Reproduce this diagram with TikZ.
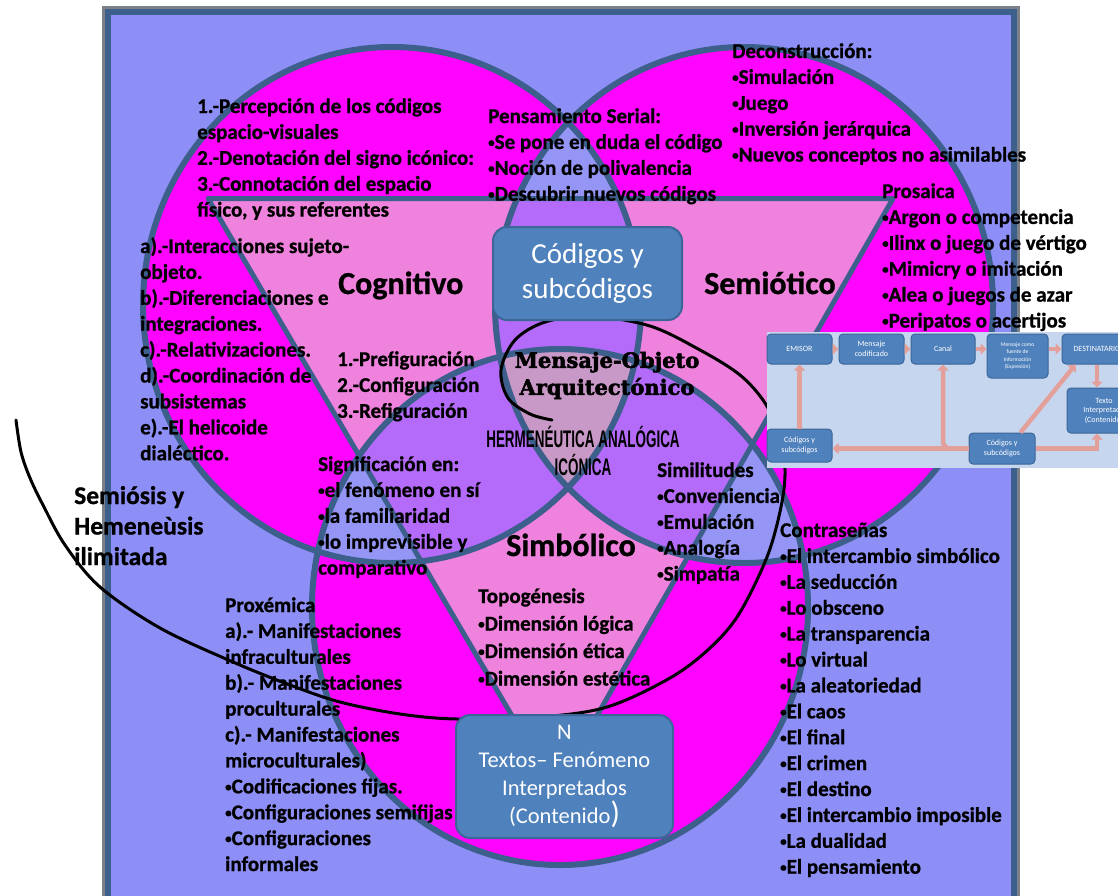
\documentclass[tikz,border=0pt]{standalone}
\usepackage{fontspec}
\setmainfont{Carlito}[BoldFeatures={FakeBold=0.9}]
\newfontfamily\heavyserif{DejaVu Serif}[BoldFeatures={FakeBold=2.5}]
\newfontfamily\plainsans{Liberation Sans}
\usetikzlibrary{arrows.meta}

\definecolor{lav}{HTML}{8E8FF6}
\definecolor{lavpair}{HTML}{9595F5}
\definecolor{mag}{HTML}{FF05FF}
\definecolor{tripink}{HTML}{EE82DC}
\definecolor{purp}{HTML}{B46BF9}
\definecolor{triple}{HTML}{C898C6}
\definecolor{edgeblue}{HTML}{3D5F8C}
\definecolor{framegrey}{HTML}{7C8088}
\definecolor{boxblue}{HTML}{4F81BD}
\definecolor{boxedge}{HTML}{3C6698}
\definecolor{insetbg}{HTML}{C6D6EF}
\definecolor{salmon}{HTML}{E3A09A}

% small list bullet
\newcommand{\bu}{\raisebox{0.1em}{\scalebox{0.62}{•}}}

\tikzset{
  ring/.style={draw=edgeblue, line width=6pt},
  wedge/.style={draw=edgeblue, line width=5pt, line join=round},
  % text blocks are placed by the baseline of their last line
  txt/.style={anchor=base west, inner sep=0pt, align=left,
    font=\bfseries\fontsize{21}{25.9}\selectfont},
  biglabel/.style={anchor=base west, inner sep=0pt,
    font=\bfseries\fontsize{32}{38}\selectfont},
  bluebox/.style={draw=boxedge, fill=boxblue, line width=2pt, rounded corners=14pt,
    text=white, align=center, inner sep=0pt},
  ibox/.style={draw=boxedge, fill=boxblue, line width=1pt, rounded corners=4pt,
    text=white, align=center, inner sep=1pt, font=\fontsize{8}{9.5}\selectfont},
  arr/.style={draw=salmon, line width=4.5pt, -{Triangle[width=11pt,length=6pt]}},
}

\begin{document}
\begin{tikzpicture}[x=1pt,y=-1pt]
\useasboundingbox (0,0) rectangle (1118,895);
\clip (0,0) rectangle (1118,895);
\fill[white] (0,0) rectangle (1118,895);

% slide frame
\fill[lav] (105,9) rectangle (1017,905);
\draw[framegrey, line width=3pt] (103,7) rectangle (1018.5,910);
\draw[edgeblue, line width=6pt] (108,12) rectangle (1014,910);

% three circles of the Venn diagram
\fill[mag] (392,305) ellipse [x radius=249pt, y radius=258pt];
\fill[mag] (744,305) ellipse [x radius=249pt, y radius=258pt];
\fill[mag] (560,607) ellipse [x radius=248pt, y radius=258pt];

% pairwise overlaps outside the triangle
\begin{scope}
  \clip (392,305) ellipse [x radius=249pt, y radius=258pt];
  \fill[lavpair] (744,305) ellipse [x radius=249pt, y radius=258pt];
  \fill[lavpair] (560,607) ellipse [x radius=248pt, y radius=258pt];
\end{scope}
\begin{scope}
  \clip (744,305) ellipse [x radius=249pt, y radius=258pt];
  \fill[lavpair] (560,607) ellipse [x radius=248pt, y radius=258pt];
\end{scope}

% inverted triangle
\fill[tripink] (208,198.5) -- (893,198.5) -- (555,789) -- cycle;
\begin{scope}
  \clip (208,198.5) -- (893,198.5) -- (555,789) -- cycle;
  \begin{scope}
    \clip (392,305) ellipse [x radius=249pt, y radius=258pt];
    \fill[purp] (744,305) ellipse [x radius=249pt, y radius=258pt];
    \fill[purp] (560,607) ellipse [x radius=248pt, y radius=258pt];
  \end{scope}
  \begin{scope}
    \clip (744,305) ellipse [x radius=249pt, y radius=258pt];
    \fill[purp] (560,607) ellipse [x radius=248pt, y radius=258pt];
  \end{scope}
  \begin{scope}
    \clip (392,305) ellipse [x radius=249pt, y radius=258pt];
    \clip (744,305) ellipse [x radius=249pt, y radius=258pt];
    \fill[triple] (560,607) ellipse [x radius=248pt, y radius=258pt];
  \end{scope}
\end{scope}

% outlines
\draw[ring] (392,305) ellipse [x radius=249pt, y radius=258pt];
\draw[ring] (744,305) ellipse [x radius=249pt, y radius=258pt];
\draw[ring] (560,607) ellipse [x radius=248pt, y radius=258pt];
\draw[wedge] (208,198.5) -- (893,198.5) -- (555,789) -- cycle;

% spiral of unlimited semiosis
\draw[line width=3pt, line cap=round] plot[smooth, tension=0.55] coordinates {
  (16,420) (21,452) (30,478) (43,505) (65,545) (100,587) (160,628) (233,662)
  (290,685) (340,702) (400,714) (457,719) (540,717) (607,707) (670,678)
  (710,648) (739,614) (767,557) (781,507) (785,470) (779,435) (765,403)
  (740,375) (700,350) (650,326) (590,316) (545,322) (515,340) (501,370)
  (508,398) (530,414) (552,420)};

% central boxes
\node[bluebox, minimum width=189pt, minimum height=93pt,
  font=\fontsize{29}{35}\selectfont] (codigos) at (587.5,273.5) {Códigos y\\subcódigos};
\node[bluebox, minimum width=217pt, minimum height=123pt,
  font=\fontsize{22.5}{28}\selectfont] (textos) at (564.5,776.5)
  {N\\Textos– Fenómeno\\Interpretados\\(Contenido{\fontsize{31}{28}\selectfont)}};

% region labels
\node[biglabel] (cognitivo) at (338,294) {Cognitivo};
\node[biglabel] (semiotico) at (704,294) {Semiótico};
\node[biglabel] (simbolico) at (506,556) {Simbólico};

\node[inner sep=0pt, align=center, font=\heavyserif\bfseries\fontsize{21}{27}\selectfont]
  (mensaje) at (607,375.5) {Mensaje-Objeto\\Arquitectónico};
\node[inner sep=0pt, align=center, font=\plainsans\bfseries\fontsize{24}{28}\selectfont]
  (herme) at (583,451) {\scalebox{0.56}[1]{HERMENÉUTICA ANALÓGICA}\\\scalebox{0.56}[1]{ICÓNICA}};

% text blocks
\node[txt] (percepcion) at (197,216.6) {1.-Percepción de los códigos\\espacio-visuales\\2.-Denotación del signo icónico:\\3.-Connotación del espacio\\físico, y sus referentes};
\node[txt] (serial) at (488,200.7) {Pensamiento Serial:\\\bu Se pone en duda el código\\\bu Noción de polivalencia\\\bu Descubrir nuevos códigos};
\node[txt] (decons) at (732,161.6) {Deconstrucción:\\\bu Simulación\\\bu Juego\\\bu Inversión jerárquica\\\bu Nuevos conceptos no asimilables};
\node[txt] (prosaica) at (882,327.5) {Prosaica\\\bu Argon o competencia\\\bu Ilinx o juego de vértigo\\\bu Mimicry o imitación\\\bu Alea o juegos de azar\\\bu Peripatos o acertijos};
\node[txt] (interacc) at (140,460.2) {a).-Interacciones sujeto-\\objeto.\\b).-Diferenciaciones e\\integraciones.\\c).-Relativizaciones.\\d).-Coordinación de\\subsistemas\\e).-El helicoide\\dialéctico.};
\node[txt] (prefig) at (337,417.8) {1.-Prefiguración\\2.-Configuración\\3.-Refiguración};
\node[txt] (signif) at (318,574.6) {Significación en:\\\bu el fenómeno en sí\\\bu la familiaridad\\\bu lo imprevisible y\\comparativo};
\node[txt] (simil) at (657,580.6) {Similitudes\\\bu Conveniencia\\\bu Emulación\\\bu Analogía\\\bu Simpatía};
\node[txt] (proxemica) at (225,871) {Proxémica\\a).- Manifestaciones\\infraculturales\\b).- Manifestaciones\\proculturales\\c).- Manifestaciones\\microculturales)\\\bu Codificaciones fijas.\\\bu Configuraciones semifijas\\\bu Configuraciones\\informales};
\node[txt, font=\bfseries\fontsize{21}{27.5}\selectfont] (topo) at (478,685.5) {Topogénesis\\\bu Dimensión lógica\\\bu Dimensión ética\\\bu Dimensión estética};
\node[txt] (contra) at (780,873.7) {Contraseñas\\\bu El intercambio simbólico\\\bu La seducción\\\bu Lo obsceno\\\bu La transparencia\\\bu Lo virtual\\\bu La aleatoriedad\\\bu El caos\\\bu El final\\\bu El crimen\\\bu El destino\\\bu El intercambio imposible\\\bu La dualidad\\\bu El pensamiento};
\node[txt, font=\bfseries\fontsize{25.5}{30.5}\selectfont] (semiosis) at (74,565) {Semiósis y\\Hemeneùsis\\ilimitada};

% communication model inset
\fill[insetbg] (767,332) rectangle (1130,468);
\node[ibox, minimum width=65pt, minimum height=30pt] (emisor) at (799.5,349) {EMISOR};
\node[ibox, minimum width=65pt, minimum height=30pt] (mcod) at (871.5,349) {Mensaje\\codificado};
\node[ibox, minimum width=64pt, minimum height=30pt] (canal) at (943,349) {Canal};
\node[ibox, minimum width=61pt, minimum height=44pt, font=\fontsize{5.6}{7.2}\selectfont]
  (mfuente) at (1017.5,356) {Mensaje como\\fuente de\\Información\\(Expresión)};
\node[ibox, minimum width=70pt, minimum height=30pt] (dest) at (1097,349) {DESTINATARIO};
\node[ibox, minimum width=74pt, minimum height=45pt] (texto) at (1104,410.5) {Texto\\Interpretado\\(Contenido)};
\node[ibox, minimum width=65pt, minimum height=33pt] (cod1) at (799.5,445.5) {Códigos y\\subcódigos};
\node[ibox, minimum width=66pt, minimum height=31pt] (cod2) at (1002,448.5) {Códigos y\\subcódigos};

\draw[arr] (emisor) -- (mcod);
\draw[arr] (mcod) -- (canal);
\draw[arr] (canal.east) -- (mfuente.west |- canal.east);
\draw[arr] (mfuente.east |- dest.west) -- (dest.west);
\draw[arr] (dest.south) -- (dest.south |- texto.north);
\draw[arr] (cod1.north) -- (emisor.south);
\draw[arr, rounded corners=7pt] (cod2.west) -| (canal.south);
\draw[arr] (cod2.west) -- (cod2.west -| cod1.east);
\draw[arr] ([xshift=-15pt]cod2.north east) -- ([xshift=14pt]dest.south west);
\draw[arr] (cod2.east) -| (dest.south |- texto.south);
\end{tikzpicture}
\end{document}
